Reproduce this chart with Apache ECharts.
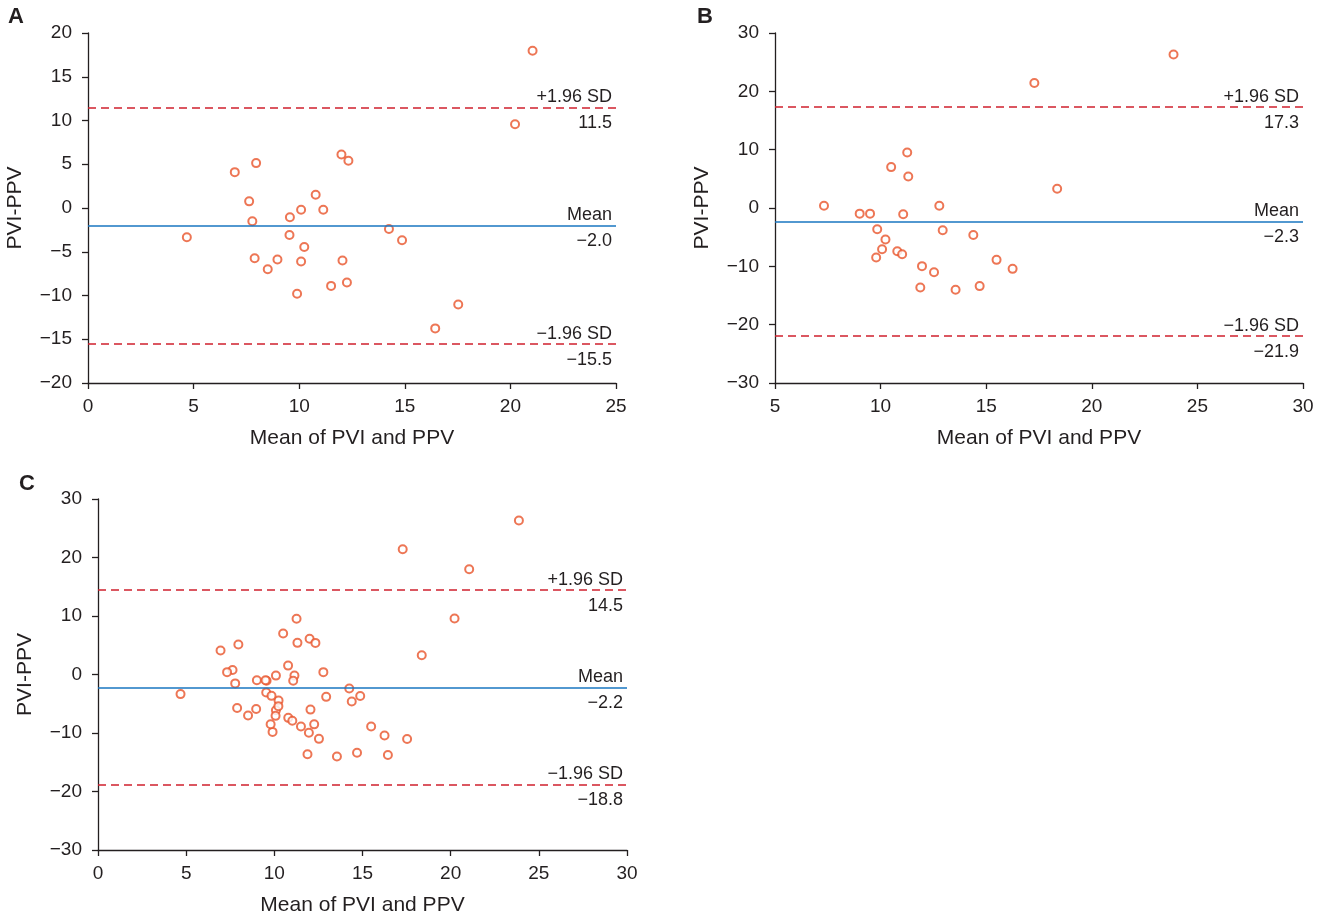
<!DOCTYPE html>
<html><head><meta charset="utf-8">
<script src="https://cdn.jsdelivr.net/npm/echarts@6/dist/echarts.min.js"></script>
<style>html,body{margin:0;padding:0;background:#fff}#c{width:1317px;height:919px}</style>
</head><body><div id="c"></div>
<script>
// Panel A: mean of PVI and PPV (x) and PVI-PPV (y)
const aMean = [4.68, 6.95, 7.96, 7.63, 7.78, 7.89, 8.51, 8.97, 9.56, 9.54, 10.09, 10.24, 10.09, 9.90, 10.78, 11.14, 12.00, 12.33, 12.05, 11.51, 12.26, 14.25, 14.87, 16.44, 17.53, 20.22, 21.05];
const aDiff = [-3.35, 4.10, 5.13, 0.76, -1.52, -5.74, -7.00, -5.89, -1.06, -3.08, -0.19, -4.45, -6.12, -9.81, 1.52, -0.19, 6.12, 5.40, -6.00, -8.90, -8.52, -2.40, -3.69, -13.76, -11.03, 9.58, 17.98];
// Panel B
const bMean = [7.32, 9.01, 9.50, 11.07, 9.84, 10.23, 10.07, 9.79, 10.79, 11.02, 10.50, 11.26, 11.31, 12.78, 12.94, 11.96, 12.53, 11.88, 13.55, 14.39, 14.69, 15.49, 16.25, 17.28, 18.36, 23.87];
const bDiff = [0.40, -0.97, -0.97, -1.08, -3.65, -5.41, -7.07, -8.49, -7.41, -7.92, 7.01, 9.52, 5.41, 0.40, -3.82, -9.97, -11.00, -13.62, -14.02, -4.62, -13.39, -8.89, -10.43, 21.42, 3.30, 26.32];
// Panel C: all measurements (A and B together)
const cMean = aMean.concat(bMean);
const cDiff = aDiff.concat(bDiff);
// Bias and limits of agreement: [mean, +1.96 SD, -1.96 SD]
const aLines = [-2.0, 11.5, -15.5];
const bLines = [-2.3, 17.3, -21.9];
const cLines = [-2.2, 14.5, -18.8];
const panelLetters = ['A', 'B', 'C'];
const xTitle = 'Mean of PVI and PPV';
const yTitle = 'PVI-PPV';

const FONT = '"Liberation Sans", Arial, sans-serif';
const TXT = '#231f20';
const fmt = v => String(v).replace('-', '\u2212');
const fmt1 = v => v.toFixed(1).replace('-', '\u2212');

const grids = [
  {left: 88, top: 33, width: 528, height: 350},
  {left: 775, top: 33, width: 528, height: 350},
  {left: 98, top: 499, width: 529, height: 351}
];
const xRanges = [[0, 25], [5, 30], [0, 30]];
const yRanges = [[-20, 20, 5], [-30, 30, 10], [-30, 30, 10]];

function axisCommon() {
  return {
    axisLine: {onZero: false, lineStyle: {color: TXT, width: 1.3}},
    axisTick: {show: true, inside: false, length: 6, lineStyle: {color: TXT, width: 1.3}},
    splitLine: {show: false},
    nameTextStyle: {color: TXT, fontSize: 21, fontFamily: FONT}
  };
}
const xAxes = xRanges.map((r, i) => Object.assign(axisCommon(), {
  type: 'value', gridIndex: i, min: r[0], max: r[1], interval: 5,
  name: xTitle, nameLocation: 'middle', nameGap: 45,
  axisLabel: {color: TXT, fontSize: 19, fontFamily: FONT, margin: 14, formatter: fmt}
}));
const yAxes = yRanges.map((r, i) => Object.assign(axisCommon(), {
  type: 'value', gridIndex: i, min: r[0], max: r[1], interval: r[2],
  name: yTitle, nameLocation: 'middle', nameGap: 62,
  axisLabel: {color: TXT, fontSize: 19, fontFamily: FONT, margin: 16, formatter: fmt}
}));

function refLines(lines) {
  const blue = '#1876c0', red = '#d0202e';
  const names = ['Mean', '+1.96 SD', '\u22121.96 SD'];
  const data = [];
  lines.forEach((v, k) => {
    const ls = k === 0 ? {color: blue, width: 1.6, type: 'solid'} : {color: red, width: 1.6, type: [8, 5]};
    data.push({yAxis: v, lineStyle: ls,
      label: {show: true, position: 'insideEndTop', formatter: names[k], distance: [4, 1],
              color: TXT, fontSize: 18, fontFamily: FONT}});
    data.push({yAxis: v, lineStyle: {color: 'rgba(0,0,0,0)', width: 0.1, type: 'solid'},
      label: {show: true, position: 'insideEndBottom', formatter: fmt1(v), distance: [4, 7],
              color: TXT, fontSize: 18, fontFamily: FONT}});
  });
  return {silent: true, symbol: ['none', 'none'], animation: false, data: data};
}

const panels = [[aMean, aDiff, aLines], [bMean, bDiff, bLines], [cMean, cDiff, cLines]];
const series = panels.map((p, i) => ({
  type: 'scatter', xAxisIndex: i, yAxisIndex: i,
  data: p[0].map((x, j) => [x, p[1][j]]),
  symbol: 'emptyCircle', symbolSize: 8,
  itemStyle: {color: '#e8542a', borderColor: '#e8542a', borderWidth: 1.8},
  markLine: refLines(p[2]),
  z: 3
}));

const letterPos = [[8, 17], [697, 17], [19, 484]];
const graphic = panelLetters.map((t, i) => ({
  type: 'text', x: letterPos[i][0], y: letterPos[i][1],
  style: {text: t, fill: TXT, font: 'bold 22px ' + FONT, textVerticalAlign: 'middle'}
}));

const chart = echarts.init(document.getElementById('c'), null, {renderer: 'canvas'});
chart.setOption({
  animation: false,
  backgroundColor: '#fff',
  grid: grids,
  xAxis: xAxes,
  yAxis: yAxes,
  series: series,
  graphic: graphic
});
</script>
</body></html>
